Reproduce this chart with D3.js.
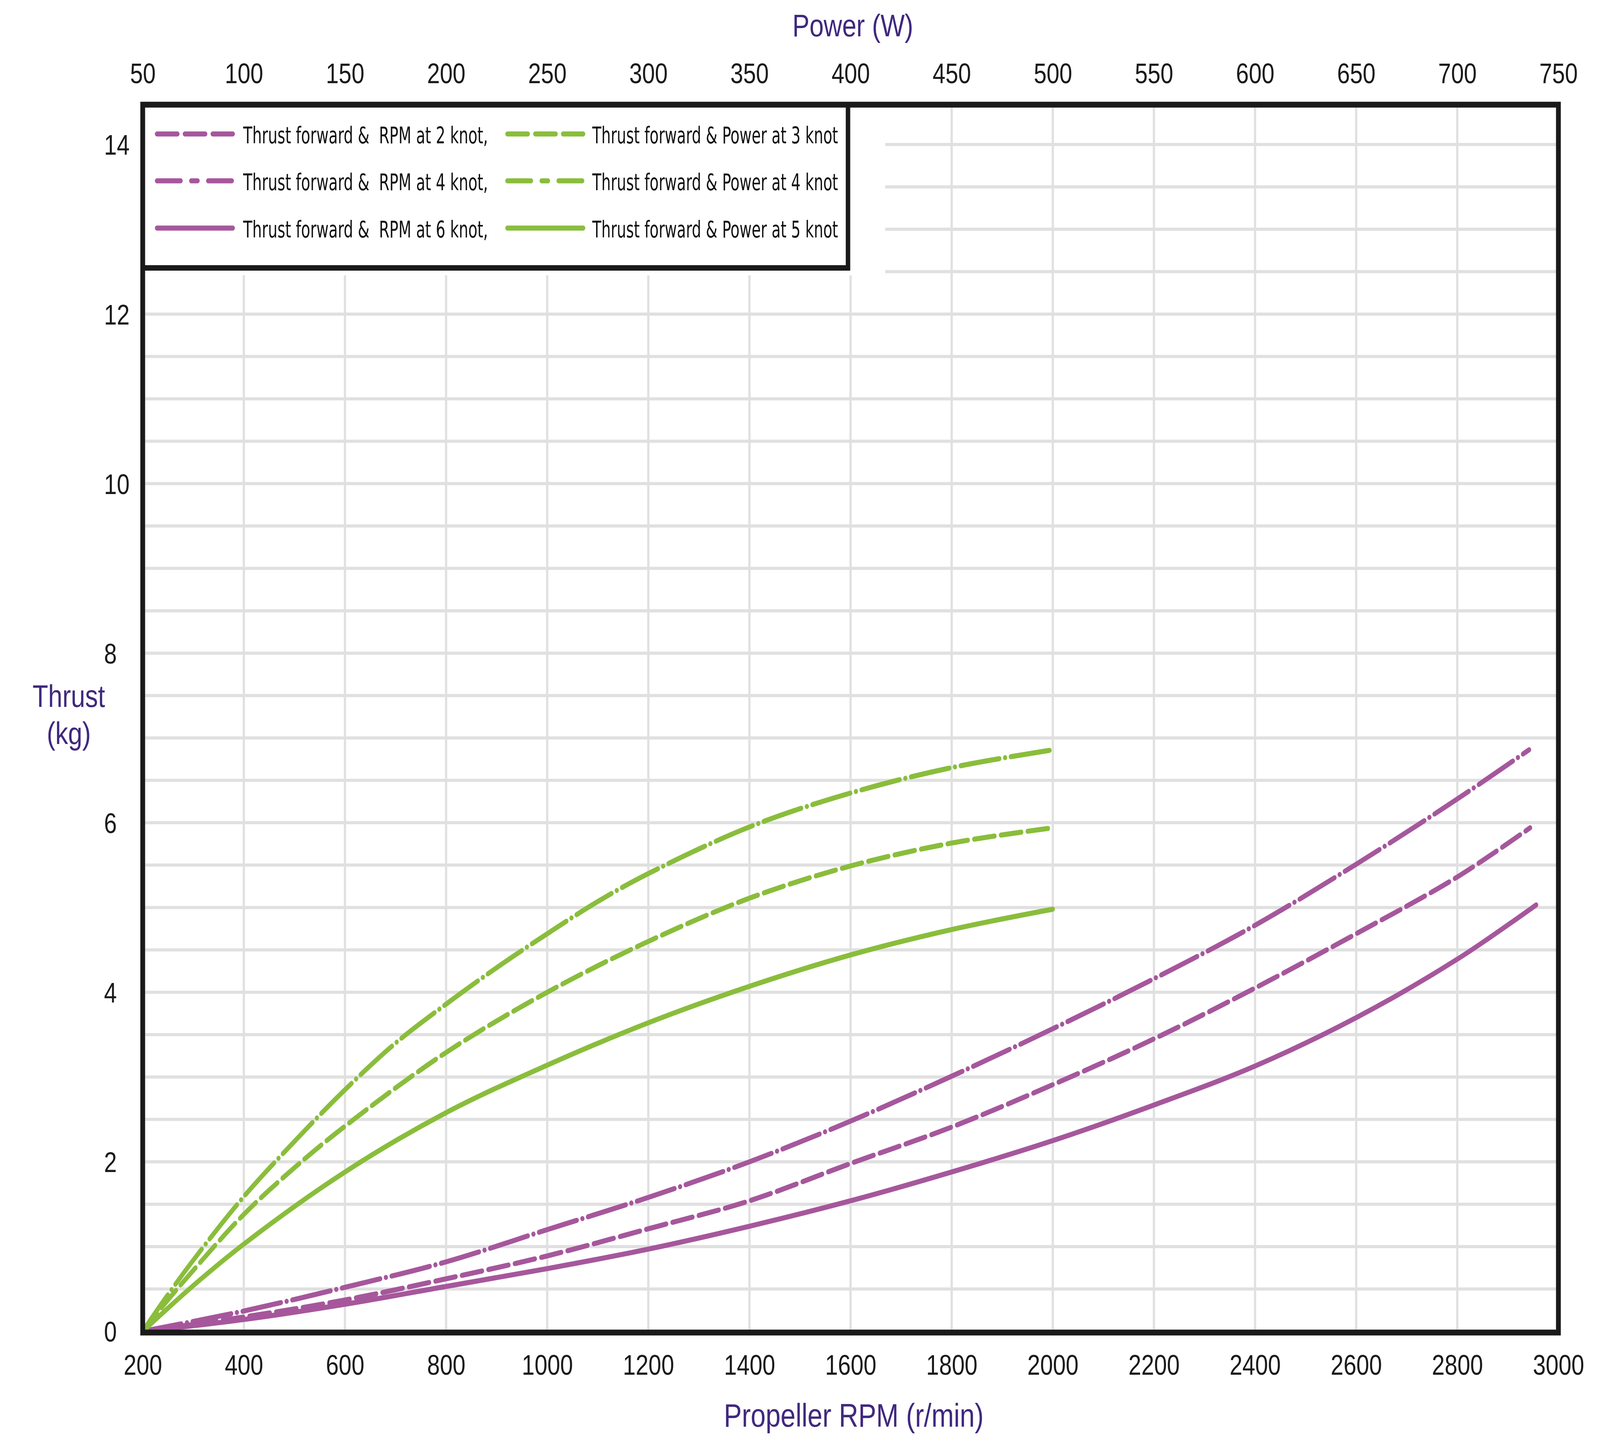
<!doctype html>
<html>
<head>
<meta charset="UTF-8">
<title>Thrust forward vs RPM and Power</title>
<script src="https://d3js.org/d3.v7.min.js"></script>
<style>
  html,body{margin:0;padding:0;background:#fff;overflow:hidden;}
  svg{display:block;width:100vw;height:100vh;}
</style>
</head>
<body>
<script>
// tick labels
var powerTicks=[50,100,150,200,250,300,350,400,450,500,550,600,650,700,750];
var rpmTicks=[200,400,600,800,1000,1200,1400,1600,1800,2000,2200,2400,2600,2800,3000];
var thrustTicks=[0,2,4,6,8,10,12,14];

// thrust (kg) against propeller RPM
var rpm2=[200,400,600,800,1000,1200,1400,1600,1800,2000,2200,2400,2600,2800,2942];
var thrustRpm2=[0,0.24,0.52,0.82,1.20,1.58,2.00,2.48,3.01,3.57,4.16,4.79,5.51,6.28,6.86];
var rpm4=[200,400,600,800,1000,1200,1400,1600,1800,2000,2200,2400,2600,2800,2944];
var thrustRpm4=[0,0.17,0.37,0.62,0.89,1.21,1.54,1.98,2.41,2.91,3.45,4.05,4.69,5.36,5.94];
var rpm6=[200,400,600,800,1000,1200,1400,1600,1800,2000,2200,2400,2600,2800,2956];
var thrustRpm6=[0,0.14,0.32,0.53,0.74,0.97,1.24,1.54,1.88,2.25,2.67,3.13,3.70,4.39,5.03];

// thrust (kg) against power (W)
var pow3=[50,60,75,100,125,150,175,200,225,250,275,300,350,400,450,500];
var thrustPow3=[0,0.35,0.84,1.59,2.24,2.85,3.40,3.86,4.29,4.69,5.07,5.40,5.95,6.35,6.65,6.86];
var pow4=[50,60,75,100,125,150,200,250,300,350,400,450,500];
var thrustPow4=[0,0.30,0.72,1.38,1.93,2.42,3.29,4.00,4.60,5.11,5.49,5.76,5.94];
var pow5=[50,75,100,150,200,250,300,350,400,450,500];
var thrustPow5=[0,0.54,1.03,1.88,2.58,3.14,3.64,4.07,4.44,4.74,4.98];

var legendLeft=["Thrust forward &  RPM at 2 knot,","Thrust forward &  RPM at 4 knot,","Thrust forward &  RPM at 6 knot,"];
var legendRight=["Thrust forward & Power at 3 knot","Thrust forward & Power at 4 knot","Thrust forward & Power at 5 knot"];

var W=5000, H=3723;
var L=446, R=4870, T=268, B=3412;
var purple="#a6579c", green="#8abd3c", ink="#1a1a1a", titleCol="#40287f";
var tickFont="'Liberation Sans', Arial, sans-serif";

var xRpm=d3.scaleLinear().domain([200,3000]).range([L,R]);
var xPow=d3.scaleLinear().domain([50,750]).range([L,R]);
var y=d3.scaleLinear().domain([0,14]).range([3409,370]);

// the window may be narrower than 5000px, so the drawing is fitted to it
var svg=d3.select("body").append("svg")
    .attr("viewBox","0 0 "+W+" "+H)
    .attr("preserveAspectRatio","none")
    .style("background","#fff");

// grid
var grid=svg.append("g").attr("stroke","#e0e0e0");
grid.selectAll("line.v").data(rpmTicks.slice(1,-1)).enter().append("line")
    .attr("class","v")
    .attr("x1",function(d){return xRpm(d);}).attr("x2",function(d){return xRpm(d);})
    .attr("y1",T).attr("y2",B)
    .attr("stroke-width",7);
grid.selectAll("line.h").data(y.ticks(28).filter(function(d){return d>0;})).enter().append("line")
    .attr("class","h")
    .attr("x1",L).attr("x2",R)
    .attr("y1",function(d){return y(d);}).attr("y2",function(d){return y(d);})
    .attr("stroke-width",8);

// blank area round the legend
svg.append("rect").attr("x",L).attr("y",T).attr("width",2766-L).attr("height",705-T).attr("fill","#fff");
svg.append("path").attr("d","M"+L+",686H2650V"+T)
    .attr("fill","none").attr("stroke",ink).attr("stroke-width",14);

// legend
var rowsY=[343,463,584];
var legendItems=[];
legendLeft.forEach(function(t,i){legendItems.push({label:t,col:0,row:i,color:purple});});
legendRight.forEach(function(t,i){legendItems.push({label:t,col:1,row:i,color:green});});
var swatchDash=["64 23","74 33 20 33","none"];
var swatchX=[484,1579], textX=[760,1851], textW=[765,768];

var leg=svg.append("g");
var item=leg.selectAll("g").data(legendItems).enter().append("g");
item.append("line")
    .attr("x1",function(d){return swatchX[d.col]+6.5;})
    .attr("x2",function(d){return swatchX[d.col]+250-6.5;})
    .attr("y1",function(d){return rowsY[d.row];})
    .attr("y2",function(d){return rowsY[d.row];})
    .attr("stroke",function(d){return d.color;})
    .attr("stroke-width",13)
    .attr("stroke-linecap","round")
    .attr("stroke-dasharray",function(d){return swatchDash[d.row];});
item.append("text")
    .attr("x",function(d){return textX[d.col];})
    .attr("y",function(d){return rowsY[d.row]+24;})
    .attr("font-family","'DejaVu Sans Condensed','Liberation Sans Narrow','Liberation Sans',sans-serif")
    .attr("font-size",58)
    .attr("fill","#111")
    .attr("textLength",function(d){return textW[d.col];})
    .attr("lengthAdjust","spacingAndGlyphs")
    .style("white-space","pre")
    .text(function(d){return d.label;});

// curves
var dashTop="122 18 0.1 18", dashMid="64 20";
var series=[
  {xs:rpm2,ys:thrustRpm2,sx:xRpm,color:purple,dash:dashTop},
  {xs:rpm4,ys:thrustRpm4,sx:xRpm,color:purple,dash:dashMid},
  {xs:rpm6,ys:thrustRpm6,sx:xRpm,color:purple,dash:null},
  {xs:pow3,ys:thrustPow3,sx:xPow,color:green,dash:dashTop},
  {xs:pow4,ys:thrustPow4,sx:xPow,color:green,dash:dashMid},
  {xs:pow5,ys:thrustPow5,sx:xPow,color:green,dash:null}
];
svg.append("g").selectAll("path").data(series).enter().append("path")
    .attr("d",function(s){
        var line=d3.line()
            .x(function(d){return s.sx(d[0]);})
            .y(function(d){return y(d[1]);})
            .curve(d3.curveCatmullRom.alpha(0.5));
        return line(d3.zip(s.xs,s.ys));
    })
    .attr("fill","none")
    .attr("stroke",function(s){return s.color;})
    .attr("stroke-width",13)
    .attr("stroke-linecap","round")
    .attr("stroke-linejoin","round")
    .attr("stroke-dasharray",function(s){return s.dash;});

// frame
svg.append("rect").attr("x",L).attr("y",T).attr("width",R-L).attr("height",B-T)
    .attr("fill","none").attr("stroke",ink).attr("stroke-width",15);

// axes
var fmt=d3.format("d");
function styleAxis(g){
    g.select(".domain").remove();
    g.attr("font-size",72).attr("font-family",tickFont).attr("color",ink);
}
var topAxis=svg.append("g").attr("transform","translate(0,213)")
    .call(d3.axisTop(xPow).tickValues(powerTicks).tickFormat(fmt).tickSize(0).tickPadding(0));
styleAxis(topAxis);

var bottomAxis=svg.append("g").attr("transform","translate(0,3520)")
    .call(d3.axisBottom(xRpm).tickValues(rpmTicks).tickFormat(fmt).tickSize(0).tickPadding(0));
styleAxis(bottomAxis);
bottomAxis.selectAll("text").attr("y",0).attr("dy",0);

var leftAxis=svg.append("g").attr("transform","translate(325,0)")
    .call(d3.axisLeft(y).tickValues(thrustTicks).tickFormat(fmt).tickSize(0).tickPadding(0));
styleAxis(leftAxis);
leftAxis.attr("text-anchor","start");
leftAxis.selectAll("text").attr("x",0).attr("dy","0.36em");

// titles
var titles=svg.append("g").attr("font-family",tickFont).attr("fill",titleCol).attr("text-anchor","middle");
titles.append("text").attr("x",2665).attr("y",93).attr("font-size",80).text("Power (W)");
titles.append("text").attr("x",2668).attr("y",3653).attr("font-size",84).text("Propeller RPM (r/min)");
titles.append("text").attr("x",215).attr("y",1810).attr("font-size",80).text("Thrust");
titles.append("text").attr("x",215).attr("y",1905).attr("font-size",80).text("(kg)");
</script>
</body>
</html>
